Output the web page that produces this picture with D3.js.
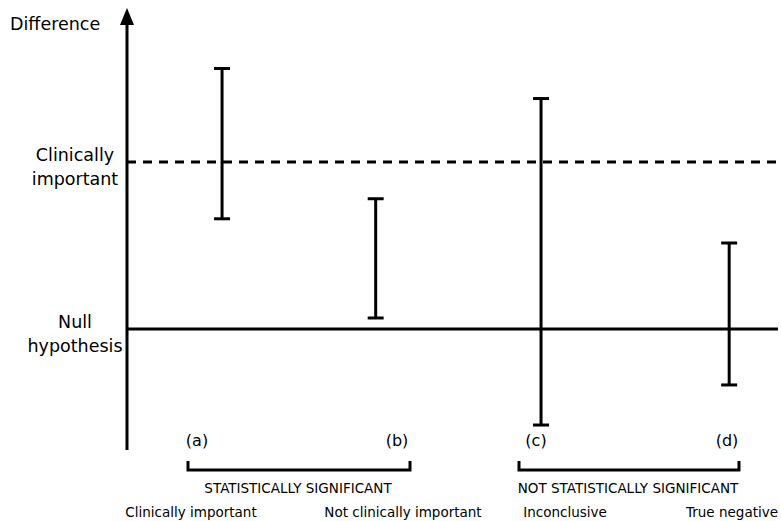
<!DOCTYPE html>
<html>
<head>
<meta charset="utf-8">
<script src="https://cdn.jsdelivr.net/npm/d3@7"></script>
<style>
  body { margin: 0; background: #fff; }
  svg text { font-family: "DejaVu Sans", "Liberation Sans", sans-serif; fill: #000; }
</style>
</head>
<body>
<svg id="chart" width="781" height="521"></svg>
<script>
// study labels, where they sit along the x axis, and their interval ends
var studies = ["(a)", "(b)", "(c)", "(d)"];
var positions = [14.6, 38.2, 63.6, 92.5];
var lower = [0.66, 0.066, -0.575, -0.335];
var upper = [1.56, 0.78, 1.38, 0.515];

// reference levels on the difference scale
var nullValue = 0;
var clinicalValue = 1;

// bottom groupings
var groups = ["STATISTICALLY SIGNIFICANT", "NOT STATISTICALLY SIGNIFICANT"];
var outcomes = ["Clinically important", "Not clinically important", "Inconclusive", "True negative"];

var svg = d3.select("#chart");

var x = d3.scaleLinear().domain([0, 100]).range([127, 778]);
var y = d3.scaleLinear().domain([0, 1]).range([329, 162]);

var data = studies.map(function(s, i) {
  return {name: s, pos: positions[i], lo: lower[i], hi: upper[i]};
});

// y axis with arrow head
svg.append("line")
  .attr("x1", x(0)).attr("x2", x(0))
  .attr("y1", 450).attr("y2", 22)
  .attr("stroke", "#000").attr("stroke-width", 3);
svg.append("path")
  .attr("d", "M" + (x(0) - 7) + ",25 L" + (x(0) + 7) + ",25 L" + x(0) + ",8 Z")
  .attr("fill", "#000");

// null line and clinically important line
svg.append("line")
  .attr("x1", x(0)).attr("x2", x(100))
  .attr("y1", y(nullValue)).attr("y2", y(nullValue))
  .attr("stroke", "#000").attr("stroke-width", 3);
svg.append("line")
  .attr("x1", x(0)).attr("x2", x(100))
  .attr("y1", y(clinicalValue)).attr("y2", y(clinicalValue))
  .attr("stroke", "#000").attr("stroke-width", 3)
  .attr("stroke-dasharray", "9,7");

// axis labels
var leftLabels = [
  {lines: ["Difference"], y: 30, anchor: "start", x: 10},
  {lines: ["Clinically", "important"], y: y(clinicalValue), anchor: "middle", x: 75},
  {lines: ["Null", "hypothesis"], y: y(nullValue), anchor: "middle", x: 75}
];
leftLabels.forEach(function(l) {
  var t = svg.append("text")
    .attr("x", l.x)
    .attr("text-anchor", l.anchor)
    .style("font-size", "17.5px");
  var startY = l.lines.length == 1 ? l.y : l.y - 1;
  l.lines.forEach(function(line, i) {
    t.append("tspan")
      .attr("x", l.x)
      .attr("y", startY + i * 24)
      .text(line);
  });
});

// error bars
var bars = svg.selectAll(".bar").data(data).enter().append("g").attr("class", "bar");
bars.append("line")
  .attr("x1", function(d) { return x(d.pos); })
  .attr("x2", function(d) { return x(d.pos); })
  .attr("y1", function(d) { return y(d.hi); })
  .attr("y2", function(d) { return y(d.lo); })
  .attr("stroke", "#000").attr("stroke-width", 3);
bars.selectAll(".cap")
  .data(function(d) { return [d.hi, d.lo].map(function(v) { return {pos: d.pos, v: v}; }); })
  .enter().append("line")
  .attr("x1", function(d) { return x(d.pos) - 8; })
  .attr("x2", function(d) { return x(d.pos) + 8; })
  .attr("y1", function(d) { return y(d.v); })
  .attr("y2", function(d) { return y(d.v); })
  .attr("stroke", "#000").attr("stroke-width", 3);

// study letters
var letterX = [197, 397, 536, 727];
svg.selectAll(".letter").data(studies).enter().append("text")
  .attr("x", function(d, i) { return letterX[i]; })
  .attr("y", 446)
  .attr("text-anchor", "middle")
  .style("font-size", "16px")
  .text(function(d) { return d; });

// brackets
var bracketEnds = [[188, 410], [519, 739]];
groups.forEach(function(g, i) {
  var x0 = bracketEnds[i][0], x1 = bracketEnds[i][1];
  svg.append("path")
    .attr("d", "M" + x0 + ",461 L" + x0 + ",470 L" + x1 + ",470 L" + x1 + ",461")
    .attr("fill", "none").attr("stroke", "#000").attr("stroke-width", 3);
  svg.append("text")
    .attr("x", (x0 + x1) / 2 - 1)
    .attr("y", 493)
    .attr("text-anchor", "middle")
    .style("font-size", "13.5px")
    .text(g);
});

// outcome labels
var outcomeX = [191, 403, 565, 732];
svg.selectAll(".outcome").data(outcomes).enter().append("text")
  .attr("x", function(d, i) { return outcomeX[i]; })
  .attr("y", 517)
  .attr("text-anchor", "middle")
  .style("font-size", "13.5px")
  .text(function(d) { return d; });
</script>
</body>
</html>
